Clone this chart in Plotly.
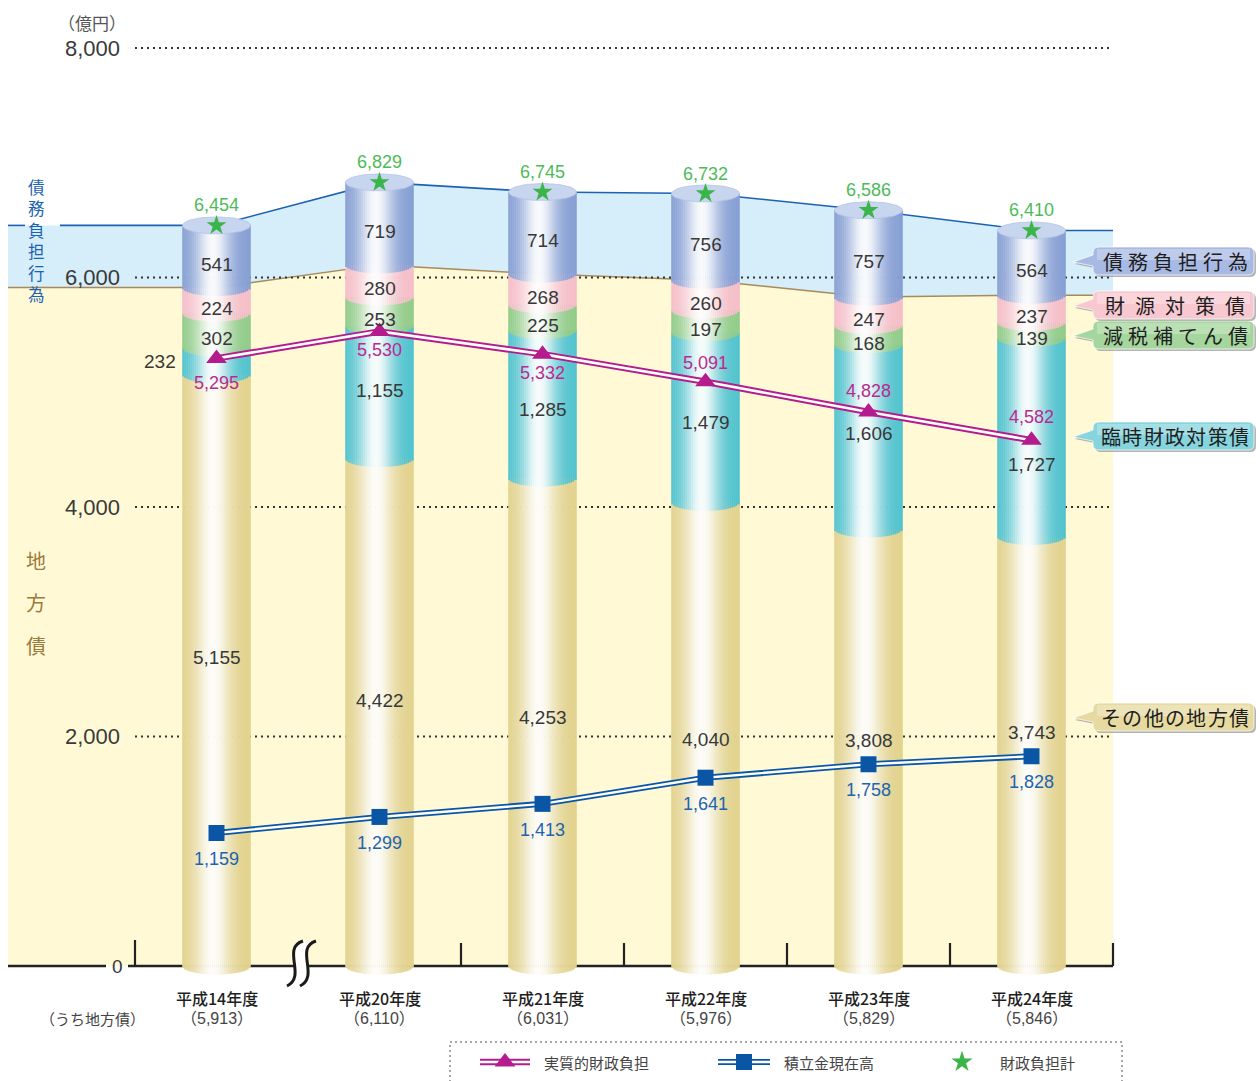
import numpy as np
import plotly.graph_objects as go

# ---- values (億円) ----
fiscal_years = ["平成14年度", "平成20年度", "平成21年度", "平成22年度", "平成23年度", "平成24年度"]
local_bond_totals = [5913, 6110, 6031, 5976, 5829, 5846]
other_local_bonds = [5155, 4422, 4253, 4040, 3808, 3743]
temp_fiscal_bonds = [232, 1155, 1285, 1479, 1606, 1727]
tax_cut_bonds = [302, 253, 225, 197, 168, 139]
revenue_bonds = [224, 280, 268, 260, 247, 237]
debt_burden_acts = [541, 719, 714, 756, 757, 564]
fiscal_burden_totals = [6454, 6829, 6745, 6732, 6586, 6410]
real_fiscal_burden = [5295, 5530, 5332, 5091, 4828, 4582]
reserve_balance = [1159, 1299, 1413, 1641, 1758, 1828]
y_tick_values = [0, 2000, 4000, 6000, 8000]
series_names = ["その他の地方債", "臨時財政対策債", "減税補てん債", "財源対策債", "債務負担行為"]

# ---- page geometry: the plot area covers the whole page ----
W, H = 1256, 1081
CAT_PX = 163.0
X0_PX = 216.5
Y0_PX = 966.0
PX_PER_UNIT = 918.0 / 8000.0


def xd(px):
    return (px - X0_PX) / CAT_PX


def yd(py):
    return (Y0_PX - py) / PX_PER_UNIT


def lx(p):
    return p / CAT_PX


def ly(p):
    return p / PX_PER_UNIT


FONT = "Noto Sans CJK JP, Noto Sans, sans-serif"
NUM_FONT = "Liberation Sans, Noto Sans CJK JP, sans-serif"
n = len(fiscal_years)
idx = list(range(n))
BAR_HALF = lx(34)
CAP_H = ly(8.5)
LEFT_EDGE = xd(8)
RIGHT_EDGE = 5.5


def hex2rgb(h):
    h = h.lstrip("#")
    return [int(h[k:k + 2], 16) for k in (0, 2, 4)]


def tint(h, a):
    r, g, b = hex2rgb(h)
    return "rgb(%d,%d,%d)" % (r + (255 - r) * a, g + (255 - g) * a, b + (255 - b) * a)


def pts_path(points, close=True):
    s = "M " + " L ".join("%.5f,%.3f" % (x, y) for x, y in points)
    return s + (" Z" if close else "")


def px_pt(px, py):
    return "%.5f,%.3f" % (xd(px), yd(py))


fig = go.Figure()
shapes = []
annotations = []


def label(x, y, text, size=18, color="#333333", xanchor="center", yanchor="middle", weight=None,
          family=FONT):
    f = dict(family=family, size=size, color=color)
    if weight:
        f["weight"] = weight
    annotations.append(dict(x=x, y=y, xref="x", yref="y", text=text, showarrow=False,
                            font=f, xanchor=xanchor, yanchor=yanchor))


# ---- background bands ----
area_x = [LEFT_EDGE] + idx + [RIGHT_EDGE]
area_local = [local_bond_totals[0]] + local_bond_totals + [local_bond_totals[-1]]
area_total = [fiscal_burden_totals[0]] + fiscal_burden_totals + [fiscal_burden_totals[-1]]

shapes.append(dict(type="path", layer="below", xref="x", yref="y",
                   path=pts_path([(LEFT_EDGE, 0)] + list(zip(area_x, area_local)) + [(RIGHT_EDGE, 0)]),
                   fillcolor="#FFF9D6", line=dict(width=0)))
shapes.append(dict(type="path", layer="below", xref="x", yref="y",
                   path=pts_path(list(zip(area_x, area_total)) + list(zip(area_x, area_local))[::-1]),
                   fillcolor="#D6EDFA", line=dict(width=0)))
shapes.append(dict(type="path", layer="below", xref="x", yref="y",
                   path=pts_path(list(zip(area_x, area_local)), close=False),
                   line=dict(color="#A8895A", width=1.5)))
shapes.append(dict(type="path", layer="below", xref="x", yref="y",
                   path=pts_path([(xd(60), fiscal_burden_totals[0])] + list(zip(idx, fiscal_burden_totals))
                                 + [(RIGHT_EDGE, fiscal_burden_totals[-1])], close=False),
                   line=dict(color="#1B62B2", width=1.6)))
shapes.append(dict(type="line", layer="below", xref="x", yref="y",
                   x0=LEFT_EDGE, x1=xd(25), y0=fiscal_burden_totals[0], y1=fiscal_burden_totals[0],
                   line=dict(color="#1B62B2", width=1.6)))

# ---- dotted grid ----
for v in y_tick_values[1:]:
    shapes.append(dict(type="line", layer="below", xref="x", yref="y", x0=-0.5, x1=RIGHT_EDGE,
                       y0=v, y1=v, line=dict(color="#333333", width=2, dash="2px,4px")))

# ---- baseline, ticks and axis break ----
shapes.append(dict(type="line", layer="below", xref="x", yref="y", x0=LEFT_EDGE, x1=xd(106), y0=0, y1=0,
                   line=dict(color="#222222", width=2.6)))
shapes.append(dict(type="line", layer="below", xref="x", yref="y", x0=xd(128), x1=RIGHT_EDGE, y0=0, y1=0,
                   line=dict(color="#222222", width=2.6)))
shapes.append(dict(type="line", layer="below", xref="x", yref="y", x0=-0.5, x1=-0.5, y0=0, y1=ly(26),
                   line=dict(color="#222222", width=2.2)))
for b in [1.5, 2.5, 3.5, 4.5, RIGHT_EDGE]:
    shapes.append(dict(type="line", layer="below", xref="x", yref="y", x0=b, x1=b, y0=0, y1=ly(23),
                       line=dict(color="#222222", width=2.2)))

brk = X0_PX + 0.5 * CAT_PX + 5
curve_a = [(brk, 941), (brk - 22, 948), (brk + 4, 976), (brk - 16, 986)]
curve_b = [(x + 13, y) for x, y in curve_a]
white_fill = ("M " + px_pt(*curve_a[0]) + " C " + " ".join(px_pt(*p) for p in curve_a[1:])
              + " L " + px_pt(*curve_b[3]) + " C " + " ".join(px_pt(*p) for p in curve_b[2::-1]) + " Z")
shapes.append(dict(type="path", layer="below", xref="x", yref="y", path=white_fill,
                   fillcolor="white", line=dict(width=0)))
for c in (curve_a, curve_b):
    shapes.append(dict(type="path", layer="below", xref="x", yref="y",
                       path="M " + px_pt(*c[0]) + " C " + " ".join(px_pt(*p) for p in c[1:]),
                       line=dict(color="#1A1A1A", width=3)))

# ---- cylinders: stacked segments shaded with thin vertical strips ----
segments = [(other_local_bonds, "#E2D28D"), (temp_fiscal_bonds, "#4FC2CE"), (tax_cut_bonds, "#90CB88"),
            (revenue_bonds, "#F5BDC8"), (debt_burden_acts, "#859ED3")]
N_STRIPS = 34
sw = 2 * BAR_HALF / N_STRIPS
for j in range(N_STRIPS):
    tc = -1 + (2 * j + 1) / N_STRIPS
    bulge = CAP_H * np.sqrt(max(0.0, 1 - tc * tc))
    a = 0.95 * np.exp(-((tc + 0.1) / 0.52) ** 2)
    xs, ys, bs, cs = [], [], [], []
    for i in idx:
        cum = 0
        for vals, col in segments:
            xs.append(i)
            bs.append(cum - bulge)
            ys.append(vals[i] + bulge)
            cs.append(tint(col, a))
            cum += vals[i]
    fig.add_trace(go.Bar(x=xs, y=ys, base=bs, width=sw * 1.3, offset=-BAR_HALF + j * sw - sw * 0.15,
                         marker=dict(color=cs, line=dict(width=0)), hoverinfo="skip", showlegend=False))

# top caps
t = np.linspace(0, 2 * np.pi, 72)
cap_x, cap_y = [], []
for i in idx:
    cap_x += list(i + BAR_HALF * np.cos(t)) + [None]
    cap_y += list(fiscal_burden_totals[i] + CAP_H * np.sin(t)) + [None]
fig.add_trace(go.Scatter(x=cap_x, y=cap_y, mode="lines", fill="toself", fillcolor="#C8D5EF",
                         line=dict(color="#B4C4E6", width=0.8), hoverinfo="skip", showlegend=False))

# ---- lines ----
line_series = [(real_fiscal_burden, "#B41C8E", 6.5, 2.6, "triangle-up", 18),
               (reserve_balance, "#0A56A5", 6.0, 2.4, "square", 16)]
for vals, col, w_out, w_in, sym, msize in line_series:
    fig.add_trace(go.Scatter(x=idx, y=vals, mode="lines", line=dict(color=col, width=w_out),
                             hoverinfo="skip", showlegend=False))
    fig.add_trace(go.Scatter(x=idx, y=vals, mode="lines", line=dict(color="white", width=w_in),
                             hoverinfo="skip", showlegend=False))
    fig.add_trace(go.Scatter(x=idx, y=vals, mode="markers",
                             marker=dict(symbol=sym, size=msize, color=col, line=dict(width=0)),
                             hoverinfo="skip", showlegend=False))

fig.add_trace(go.Scatter(x=idx, y=fiscal_burden_totals, mode="markers",
                         marker=dict(symbol="star", size=15, color="#3BB44A", line=dict(width=0)),
                         hoverinfo="skip", showlegend=False))

# ---- value labels ----
other_nudge_px = [13, 12, 4, -5, 7.5, 19]
temp_nudge_px = [0, 2, -5, -5, 3, -27]
real_offset_px = [25, 19, 19, -19, -21, -23]
SEG = dict(size=19, color="#383838", family=NUM_FONT)
for i in idx:
    o, tmp, tx, rv, dbt = (other_local_bonds[i], temp_fiscal_bonds[i], tax_cut_bonds[i],
                           revenue_bonds[i], debt_burden_acts[i])
    label(i, o / 2 + ly(other_nudge_px[i]), f"{o:,}", **SEG)
    mid = o + tmp / 2
    if tmp < 300:
        label(i - BAR_HALF - lx(5), mid, f"{tmp:,}", xanchor="right", **SEG)
    else:
        label(i, mid + ly(temp_nudge_px[i]), f"{tmp:,}", **SEG)
    base = o + tmp
    for v in (tx, rv, dbt):
        label(i, base + v / 2 - ly(8), f"{v:,}", **SEG)
        base += v
    label(i, fiscal_burden_totals[i] + ly(20), f"{fiscal_burden_totals[i]:,}", size=18, color="#4DBB5A",
          family=NUM_FONT)
    label(i, real_fiscal_burden[i] - ly(real_offset_px[i]), f"{real_fiscal_burden[i]:,}", size=18,
          color="#B82A92", family=NUM_FONT)
    label(i, reserve_balance[i] - ly(26), f"{reserve_balance[i]:,}", size=18, color="#1D64B0",
          family=NUM_FONT)

# ---- axis text ----
for v in y_tick_values[1:]:
    label(xd(122), v, f"{v:,}", size=22, color="#3A3A3A", xanchor="right", family=NUM_FONT)
label(xd(117), 0, "0", size=19, color="#3A3A3A", family=NUM_FONT)
label(xd(92), yd(22), "（億円）", size=17, color="#555555")
label(xd(92), yd(1018), "（うち地方債）", size=15, color="#444444")
for i in idx:
    label(i, yd(998), fiscal_years[i], size=16, color="#1E1E1E", weight=500)
    label(i, yd(1018), f"（{local_bond_totals[i]:,}）", size=16, color="#444444", family=NUM_FONT)

annotations.append(dict(x=xd(36), y=yd(187), xref="x", yref="y", text="<br>".join("債務負担行為"),
                        showarrow=False, font=dict(family=FONT, size=16.5, color="#1B62B2"),
                        xanchor="center", yanchor="top", yshift=14))
for k, ch in enumerate("地方債"):
    label(xd(36), yd(560 + k * 42.5), ch, size=20, color="#9C7B3C")

# ---- callouts on the right ----
callout_colors = ["#E7DAA0", "#86D4DD", "#A5D69E", "#F8C8D1", "#A8BAE4"]
callout_py = [717, 436, 335, 305, 261]
for name, col, py in zip(series_names, callout_colors, callout_py):
    x0, x1, y0, y1, r = 1093, 1254, py - 14, py + 14, 6

    def box(dx=0, dy=0):
        p = lambda a, b: px_pt(a + dx, b + dy)
        return ("M " + p(x0 + r, y0) + " L " + p(x1 - r, y0) + " Q " + p(x1, y0) + " " + p(x1, y0 + r)
                + " L " + p(x1, y1 - r) + " Q " + p(x1, y1) + " " + p(x1 - r, y1)
                + " L " + p(x0 + r, y1) + " Q " + p(x0, y1) + " " + p(x0, y1 - r)
                + " L " + p(x0, py + 5) + " L " + p(1073, py + 1) + " L " + p(x0, py - 6)
                + " L " + p(x0, y0 + r) + " Q " + p(x0, y0) + " " + p(x0 + r, y0) + " Z")

    shapes.append(dict(type="path", layer="above", xref="x", yref="y", path=box(2, 2),
                       fillcolor="rgba(120,120,120,0.55)", line=dict(width=0)))
    shapes.append(dict(type="path", layer="above", xref="x", yref="y", path=box(),
                       fillcolor=col, line=dict(color="rgba(255,255,255,0.7)", width=1)))
    # soft gloss on the upper half of each tag
    shapes.append(dict(type="rect", layer="above", xref="x", yref="y", x0=xd(x0 + 4), x1=xd(x1 - 4),
                       y0=yd(py - 1), y1=yd(y0 + 2), fillcolor="rgba(255,255,255,0.25)",
                       line=dict(width=0)))
    step = 150.0 / len(name)
    for k, ch in enumerate(name):
        label(xd(1100 + (k + 0.5) * step), yd(py), ch, size=20, color="#1E1E1E")

# ---- legend ----
shapes.append(dict(type="rect", layer="above", xref="x", yref="y", x0=xd(450), x1=xd(1122),
                   y0=yd(1042), y1=yd(1100), line=dict(color="#8A8A8A", width=1.5, dash="2px,3px")))
leg_y = yd(1062)
for (vals, col, w_out, w_in, sym, msize), lx0, lx1, txt in zip(
        line_series, [480, 718], [530, 770], ["実質的財政負担", "積立金現在高"]):
    fig.add_trace(go.Scatter(x=[xd(lx0), xd(lx1)], y=[leg_y, leg_y], mode="lines",
                             line=dict(color=col, width=w_out), hoverinfo="skip", showlegend=False))
    fig.add_trace(go.Scatter(x=[xd(lx0), xd(lx1)], y=[leg_y, leg_y], mode="lines",
                             line=dict(color="white", width=w_in), hoverinfo="skip", showlegend=False))
    fig.add_trace(go.Scatter(x=[xd((lx0 + lx1) / 2)], y=[leg_y], mode="markers",
                             marker=dict(symbol=sym, size=msize, color=col), hoverinfo="skip",
                             showlegend=False))
    label(xd(lx1 + 12), leg_y, txt, size=15, color="#444444", xanchor="left")
fig.add_trace(go.Scatter(x=[xd(962)], y=[leg_y], mode="markers",
                         marker=dict(symbol="star", size=16, color="#3BB44A"), hoverinfo="skip",
                         showlegend=False))
label(xd(998), leg_y, "財政負担計", size=15, color="#444444", xanchor="left")

fig.update_layout(
    width=W, height=H, margin=dict(l=0, r=0, t=0, b=0, pad=0),
    paper_bgcolor="white", plot_bgcolor="white", barmode="overlay", showlegend=False,
    xaxis=dict(range=[xd(0), xd(W)], visible=False, fixedrange=True),
    yaxis=dict(range=[yd(H), yd(0)], visible=False, fixedrange=True),
    shapes=shapes, annotations=annotations,
)
fig.write_html("out.html")
